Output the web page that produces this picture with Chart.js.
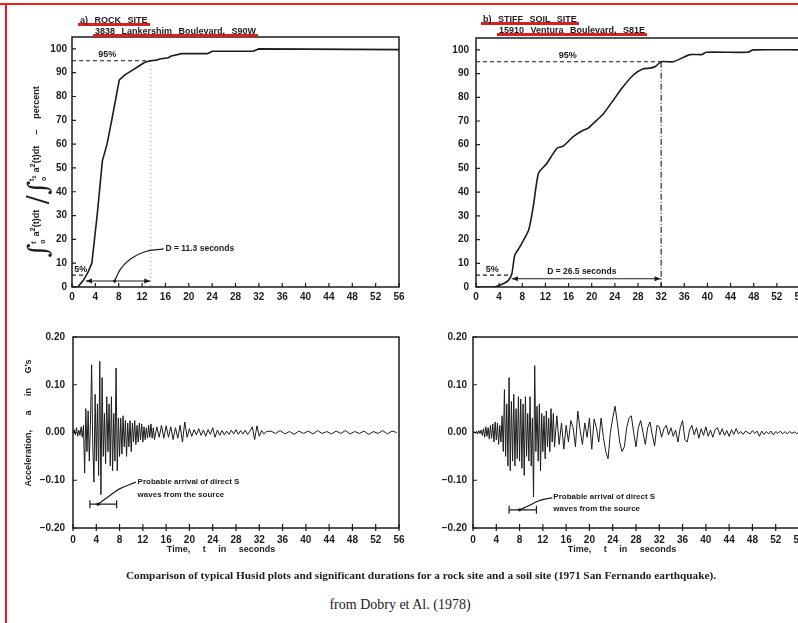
<!DOCTYPE html>
<html>
<head>
<meta charset="utf-8">
<title>Husid plots - rock site vs stiff soil site</title>
<script src="https://cdn.jsdelivr.net/npm/chart.js@4.4.1/dist/chart.umd.min.js"></script>
<style>
  html, body { margin: 0; padding: 0; background: #fff; }
  #page { position: relative; width: 798px; height: 623px; overflow: hidden; background: #fff;
          font-family: "Liberation Sans", Arial, sans-serif; color: #1c1c1c; }
  canvas { position: absolute; }
  .txt { position: absolute; white-space: nowrap; z-index: 2; }
  .site { font-weight: bold; font-size: 9px; line-height: 10px; word-spacing: 4px;
          box-shadow: inset 0 -3px 0 #d42222; padding: 0 2px 1px 2px; }
  .ytitle { font-weight: bold; font-size: 9px; transform: translate(-50%, -50%) rotate(-90deg); word-spacing: 3px; }
  .ytitle .big { font-family: "DejaVu Serif", serif; font-size: 27px; font-weight: normal; vertical-align: middle; }
  .ytitle .lims { display: inline-flex; flex-direction: column; font-size: 7px; line-height: 9px; vertical-align: middle; margin-right: 3px; }
  .xtitle { font-weight: bold; font-size: 9px; word-spacing: 10px; transform: translateX(-50%); }
  #caption { font-family: "Liberation Serif", serif; font-weight: bold; font-size: 11.3px; left: 421px; top: 569px; transform: translateX(-50%); }
  #source { font-family: "Liberation Serif", serif; font-size: 14px; left: 400px; top: 597px; transform: translateX(-50%); color: #222; }
  .red { position: absolute; background: #ee1c1c; z-index: 3; }
</style>
</head>
<body>
<div id="page">
  <div class="red" style="left:0; top:3px; width:798px; height:2px;"></div>
  <div class="red" style="left:5px; top:3px; width:2px; height:620px;"></div>

  <canvas id="rockHusid" width="420" height="310" style="left:0; top:0;"></canvas>
  <canvas id="soilHusid" width="430" height="310" style="left:400px; top:0;"></canvas>
  <canvas id="rockAcc" width="420" height="250" style="left:0; top:310px;"></canvas>
  <canvas id="soilAcc" width="430" height="250" style="left:400px; top:310px;"></canvas>

  <div class="txt site" style="left:78px; top:15px;">a) ROCK SITE</div>
  <div class="txt site" style="left:93px; top:26px;">3838 Lankershim Boulevard, S90W</div>
  <div class="txt site" style="left:481px; top:14px;">b) STIFF SOIL SITE</div>
  <div class="txt site" style="left:497px; top:25px;">15910 Ventura Boulevard, S81E</div>

  <div class="txt ytitle" style="left:37px; top:172px;">
    <span class="big">&int;</span><span class="lims"><span>t</span><span>o</span></span>a<sup>2</sup>(t)dt
    <span class="big">/</span><span class="big">&int;</span><span class="lims"><span>t<sub>1</sub></span><span>o</span></span>a<sup>2</sup>(t)dt
    &nbsp;&ndash;&nbsp; percent
  </div>
  <div class="txt ytitle" style="left:28px; top:423px; word-spacing:12px;">Acceleration, a in G's</div>

  <div class="txt xtitle" style="left:221px; top:544px;">Time, t in seconds</div>
  <div class="txt xtitle" style="left:622px; top:544px;">Time, t in seconds</div>

  <div class="txt" id="caption">Comparison of typical Husid plots and significant durations for a rock site and a soil site (1971 San Fernando earthquake).</div>
  <div class="txt" id="source">from Dobry et Al. (1978)</div>
</div>

<script>
/*************************
 DATA
**************************/
const timeTicks = [0, 4, 8, 12, 16, 20, 24, 28, 32, 36, 40, 44, 48, 52, 56];
const percentTicks = [0, 10, 20, 30, 40, 50, 60, 70, 80, 90, 100];
const accelTicks = [-0.2, -0.1, 0, 0.1, 0.2];

// Husid plot, rock site (time s, percent of total energy)
const rockHusidT   = [0, 1.0, 2.0, 2.7, 3.4, 4.3, 5.2, 6.0, 6.8, 8.1, 9.0, 10.3, 11.4, 12.4, 13.4, 14.5, 15.0, 16.5, 17.0, 18.8, 23.2, 24.0, 31.0, 32.0, 56];
const rockHusidPct = [0, 0, 3, 6, 10, 30, 53, 60, 70, 87, 89, 91, 92.7, 94.3, 95, 95.3, 95.8, 96.3, 97, 98, 98, 99, 99, 100, 99.7];

// Husid plot, stiff soil site
const soilHusidT   = [0, 3.0, 4.7, 5.6, 6.2, 6.7, 7.6, 9.1, 9.9, 10.8, 12.2, 14.0, 15.1, 16.8, 18.3, 19.4, 20.9, 22.0, 23.8, 25.2, 27.2, 28.9, 30.1, 31.0, 32.0, 34.1, 37.0, 39.0, 39.8, 47.0, 47.9, 56];
const soilHusidPct = [0, 0, 1.4, 2.8, 5.6, 13.4, 17, 24, 34, 48, 52, 58.5, 59.4, 63.4, 65.8, 67, 70.4, 73, 79, 83.8, 89.4, 92, 92.3, 93, 95, 95, 98, 98, 99, 99, 100, 100];

// significant duration limits (5% and 95%)
const rockT5 = 2.3, rockT95 = 13.5;
const soilT5 = 6.1, soilT95 = 32.0;

// acceleration records (G), sampled in three pieces: start, step, values
const rockAccA = [ // 0.0 .. 13.8 s, every 0.2 s
  0.000, 0.006, -0.005, 0.010, -0.008, 0.005, -0.006, 0.012, -0.010, 0.015,
  -0.085, 0.050, -0.040, 0.045, -0.060, 0.020, 0.142, -0.030, -0.104, 0.080,
  -0.060, 0.060, -0.090, 0.149, -0.130, 0.115, -0.050, 0.040, -0.065, 0.075,
  -0.040, 0.060, -0.070, 0.075, -0.080, 0.040, -0.060, 0.135, -0.080, 0.030,
  -0.050, 0.030, -0.045, 0.035, -0.030, 0.025, -0.050, 0.020, -0.030, 0.025,
  -0.040, 0.020, -0.020, 0.025, -0.025, 0.015, -0.020, 0.020, -0.015, 0.018,
  -0.020, 0.012, -0.015, 0.010, -0.012, 0.015, -0.010, 0.018, -0.012, 0.010];
const rockAccB = [ // 14.0 .. 33.2 s, every 0.4 s
  -0.015, 0.012, -0.010, 0.015, -0.012, 0.014, -0.010, 0.012, -0.015, 0.010,
  -0.012, 0.015, -0.020, 0.022, -0.010, 0.008, -0.008, 0.006, -0.005, 0.008,
  -0.006, 0.005, -0.008, 0.006, -0.004, 0.010, -0.010, 0.005, -0.006, 0.004,
  -0.005, 0.003, -0.004, 0.005, -0.003, 0.006, -0.004, 0.004, -0.003, 0.005,
  -0.004, 0.003, 0.012, -0.015, 0.014, -0.008, 0.004, -0.003, 0.002];
const rockAccC = [ // 34.0 .. 55.6 s, every 0.8 s
  0.003, -0.002, 0.004, -0.003, 0.002, -0.004, 0.003, -0.002, 0.003, -0.003,
  0.004, -0.002, 0.002, -0.003, 0.003, -0.002, 0.004, -0.003, 0.002, -0.002,
  0.003, -0.004, 0.002, -0.002, 0.004, -0.003, 0.003, 0.000];

const soilAccA = [ // 0.0 .. 13.8 s, every 0.2 s
  0.000, 0.002, -0.002, 0.003, -0.003, 0.004, -0.002, 0.005, -0.006, 0.008,
  -0.010, 0.012, -0.008, 0.010, -0.014, 0.015, -0.012, 0.018, -0.020, 0.022,
  -0.015, 0.020, -0.025, 0.015, -0.020, 0.035, -0.040, 0.090, -0.050, 0.060,
  -0.070, 0.115, -0.080, 0.065, -0.060, 0.080, -0.070, 0.050, -0.055, 0.075,
  -0.060, 0.070, -0.075, 0.060, -0.090, 0.075, -0.050, 0.040, -0.060, 0.075,
  -0.070, 0.030, -0.135, 0.140, -0.040, 0.055, -0.060, 0.060, -0.080, 0.040,
  -0.040, 0.035, -0.055, 0.045, -0.030, 0.030, -0.040, 0.050, -0.020, 0.040];
const soilAccB = [ // 14.0 .. 33.6 s, every 0.4 s
  -0.030, 0.035, -0.025, 0.020, -0.035, 0.015, -0.020, 0.025, 0.010, -0.030,
  0.045, 0.005, -0.025, 0.020, -0.010, 0.030, -0.035, 0.028, 0.010, -0.020,
  0.030, -0.010, -0.040, -0.055, 0.000, 0.030, 0.055, 0.020, -0.020, -0.040,
  -0.030, 0.010, 0.030, 0.035, 0.000, -0.030, 0.010, 0.025, 0.000, -0.025,
  0.010, 0.022, -0.005, -0.028, 0.015, 0.012, -0.010, 0.008, 0.015, -0.005];
const soilAccC = [ // 34.0 .. 56.0 s, every 0.4 s
  0.010, -0.008, 0.005, -0.020, 0.010, 0.025, -0.015, -0.020, 0.005, 0.015,
  -0.005, 0.010, -0.012, 0.008, -0.006, 0.012, -0.008, 0.005, -0.010, 0.006,
  0.010, -0.005, 0.008, -0.006, 0.004, -0.008, 0.006, -0.004, 0.008, -0.003,
  0.002, -0.004, 0.003, 0.000, -0.003, 0.004, -0.002, 0.003, -0.008, 0.003,
  -0.004, 0.002, -0.003, 0.003, -0.005, 0.002, -0.002, 0.003, -0.003, 0.002,
  -0.003, 0.002, -0.002, 0.001, -0.002, 0.000];

/*************************
 HELPERS
**************************/
const INK = '#1c1c1c';
const FONT = 'Liberation Sans';

function pairs(xs, ys) {
  return xs.map((x, i) => ({ x: x, y: ys[i] }));
}

function sampled(start, step, vals) {
  return vals.map((v, i) => ({ x: +(start + i * step).toFixed(2), y: v }));
}

function lineSet(data, extra) {
  return Object.assign({ data: data, borderColor: INK, borderWidth: 1.3, pointRadius: 0, tension: 0, fill: false }, extra || {});
}

/*************************
 FRAME, TICKS, ARROWS, LABELS
**************************/
const paperDecor = {
  id: 'paperDecor',
  afterDatasetsDraw(chart, args, opts) {
    const { ctx, chartArea: a } = chart;
    const xs = chart.scales.x, ys = chart.scales.y;
    const px = v => xs.getPixelForValue(v);
    const py = v => ys.getPixelForValue(v);
    ctx.save();
    ctx.strokeStyle = INK;
    ctx.fillStyle = INK;

    // box
    ctx.lineWidth = 1.5;
    ctx.strokeRect(a.left, a.top, a.right - a.left, a.bottom - a.top);

    // tick marks
    ctx.lineWidth = 1.2;
    ctx.beginPath();
    xs.ticks.forEach(t => {
      const x = px(t.value);
      ctx.moveTo(x, a.bottom + (opts.crossTicks ? 3 : 0));
      ctx.lineTo(x, a.bottom - 4);
    });
    ys.ticks.forEach(t => {
      const y = py(t.value);
      ctx.moveTo(a.left, y);
      ctx.lineTo(a.left + 4, y);
    });
    ctx.stroke();

    // arrows with heads
    (opts.arrows || []).forEach(ar => {
      const x1 = px(ar.x1), x2 = px(ar.x2), y = py(ar.y);
      ctx.lineWidth = 1.1;
      ctx.beginPath();
      ctx.moveTo(x1, y);
      ctx.lineTo(x2, y);
      ctx.stroke();
      const head = (x, dir) => {
        ctx.beginPath();
        ctx.moveTo(x, y);
        ctx.lineTo(x - dir * 6, y - 2.5);
        ctx.lineTo(x - dir * 6, y + 2.5);
        ctx.closePath();
        ctx.fill();
      };
      head(x1, -1);
      head(x2, 1);
      if (ar.dot !== undefined) {
        ctx.beginPath();
        ctx.arc(px(ar.dot), y, 1.6, 0, Math.PI * 2);
        ctx.fill();
      }
    });

    // brackets |----|
    (opts.brackets || []).forEach(br => {
      const x1 = px(br.x1), x2 = px(br.x2), y = py(br.y);
      ctx.lineWidth = 1.2;
      ctx.beginPath();
      ctx.moveTo(x1, y); ctx.lineTo(x2, y);
      ctx.moveTo(x1, y - 4); ctx.lineTo(x1, y + 4);
      ctx.moveTo(x2, y - 4); ctx.lineTo(x2, y + 4);
      ctx.stroke();
      ctx.beginPath();
      ctx.arc(px(br.dot), y, 1.6, 0, Math.PI * 2);
      ctx.fill();
    });

    // text labels
    (opts.texts || []).forEach(t => {
      ctx.font = 'bold ' + (t.size || 9) + 'px "' + FONT + '"';
      ctx.textAlign = t.align || 'left';
      ctx.textBaseline = 'middle';
      ctx.fillText(t.text, px(t.x), py(t.y));
    });
    ctx.restore();
  }
};

/*************************
 CHART FACTORY
**************************/
function makeChart(id, cfg) {
  const tickFont = { family: FONT, size: 10, weight: 'bold' };
  return new Chart(document.getElementById(id), {
    type: 'line',
    data: { datasets: cfg.datasets },
    options: {
      responsive: false,
      animation: false,
      devicePixelRatio: 1,
      layout: { padding: cfg.padding },
      plugins: {
        legend: { display: false },
        tooltip: { enabled: false },
        paperDecor: cfg.decor
      },
      scales: {
        x: {
          type: 'linear', min: 0, max: 56,
          grid: { display: false, drawTicks: false }, border: { display: false },
          afterBuildTicks: s => { s.ticks = timeTicks.map(v => ({ value: v })); },
          afterFit: s => { s.height = cfg.xHeight; },
          ticks: { padding: cfg.xPad, color: INK, font: tickFont, maxRotation: 0, autoSkip: false }
        },
        y: {
          type: 'linear', min: cfg.yMin, max: cfg.yMax,
          grid: { display: false, drawTicks: false }, border: { display: false },
          afterBuildTicks: s => { s.ticks = cfg.yTicks.map(v => ({ value: v })); },
          afterFit: s => { s.width = cfg.yWidth; },
          ticks: { padding: cfg.yPad, color: INK, font: tickFont, callback: cfg.yFormat }
        }
      }
    },
    plugins: [paperDecor]
  });
}

const pctFormat = v => String(v);
const accFormat = v => (v < 0 ? '\u2212' : '') + Math.abs(v).toFixed(2);

/*************************
 ROCK SITE - HUSID
**************************/
makeChart('rockHusid', {
  padding: { top: 37, right: 21, left: 0, bottom: 0 },
  yWidth: 72, xHeight: 23, xPad: 4, yPad: 5,
  yMin: 0, yMax: 105, yTicks: percentTicks, yFormat: pctFormat,
  datasets: [
    lineSet(pairs(rockHusidT, rockHusidPct), { borderWidth: 1.6 }),
    lineSet(pairs([0, rockT95], [95, 95]), { borderDash: [4, 3], borderWidth: 1.1 }),
    lineSet(pairs([0, rockT5], [5, 5]), { borderDash: [4, 3], borderWidth: 1.1 }),
    lineSet(pairs([rockT95, rockT95], [95, 0]), { borderDash: [1, 3], borderWidth: 1, borderColor: '#888' }),
    lineSet(pairs([7.3, 8.3, 10.0, 12.5, 15.7], [2.5, 7.5, 11.8, 14.8, 16]), { tension: 0.4, borderWidth: 1.2 })
  ],
  decor: {
    arrows: [{ x1: rockT5 + 0.1, x2: rockT95 - 0.1, y: 2.5, dot: 7.3 }],
    texts: [
      { text: '95%', x: 4.5, y: 97.6 },
      { text: '5%', x: 0.4, y: 7.2 },
      { text: 'D = 11.3 seconds', x: 16.0, y: 16, size: 8.5 }
    ]
  }
});

/*************************
 STIFF SOIL SITE - HUSID
**************************/
makeChart('soilHusid', {
  padding: { top: 38, right: 30, left: 0, bottom: 0 },
  yWidth: 76, xHeight: 23, xPad: 4, yPad: 7,
  yMin: 0, yMax: 105, yTicks: percentTicks, yFormat: pctFormat,
  datasets: [
    lineSet(pairs(soilHusidT, soilHusidPct), { borderWidth: 1.6, tension: 0.2 }),
    lineSet(pairs([0, soilT95], [95, 95]), { borderDash: [4, 3], borderWidth: 1.1 }),
    lineSet(pairs([0, soilT5], [5, 5]), { borderDash: [4, 3], borderWidth: 1.1 }),
    lineSet(pairs([soilT95, soilT95], [95, 0]), { borderDash: [6, 2, 1, 2], borderWidth: 1.1 })
  ],
  decor: {
    arrows: [{ x1: soilT5 + 0.1, x2: soilT95 - 0.1, y: 3.5 }],
    texts: [
      { text: '95%', x: 14.3, y: 97.6 },
      { text: '5%', x: 1.7, y: 7.3 },
      { text: 'D = 26.5 seconds', x: 12.3, y: 6.3, size: 8.5 }
    ]
  }
});

/*************************
 ROCK SITE - ACCELERATION
**************************/
makeChart('rockAcc', {
  padding: { top: 27, right: 21, left: 0, bottom: 0 },
  yWidth: 73, xHeight: 32, xPad: 6, yPad: 8,
  yMin: -0.2, yMax: 0.2, yTicks: accelTicks, yFormat: accFormat,
  datasets: [
    lineSet(sampled(0, 0.2, rockAccA).concat(sampled(14, 0.4, rockAccB), sampled(34, 0.8, rockAccC)), { borderWidth: 1 }),
    lineSet(pairs([4.3, 6.0, 8.0, 10.8], [-0.15, -0.135, -0.118, -0.104]), { tension: 0.4, borderWidth: 1.2 })
  ],
  decor: {
    crossTicks: true,
    brackets: [{ x1: 2.9, x2: 7.5, y: -0.15, dot: 4.3 }],
    texts: [
      { text: 'Probable arrival of direct S', x: 11.1, y: -0.104, size: 8 },
      { text: 'waves from the source', x: 11.1, y: -0.131, size: 8 }
    ]
  }
});

/*************************
 STIFF SOIL SITE - ACCELERATION
**************************/
makeChart('soilAcc', {
  padding: { top: 27, right: 31, left: 0, bottom: 0 },
  yWidth: 73, xHeight: 32, xPad: 6, yPad: 6,
  yMin: -0.2, yMax: 0.2, yTicks: accelTicks, yFormat: accFormat,
  datasets: [
    lineSet(sampled(0, 0.2, soilAccA).concat(sampled(14, 0.4, soilAccB), sampled(34, 0.4, soilAccC)), { borderWidth: 1 }),
    lineSet(pairs([8.0, 9.8, 11.5, 13.6], [-0.162, -0.152, -0.142, -0.137]), { tension: 0.4, borderWidth: 1.2 })
  ],
  decor: {
    crossTicks: true,
    brackets: [{ x1: 6.2, x2: 10.9, y: -0.162, dot: 8.0 }],
    texts: [
      { text: 'Probable arrival of direct S', x: 13.8, y: -0.135, size: 8 },
      { text: 'waves from the source', x: 13.8, y: -0.160, size: 8 }
    ]
  }
});
</script>
</body>
</html>
